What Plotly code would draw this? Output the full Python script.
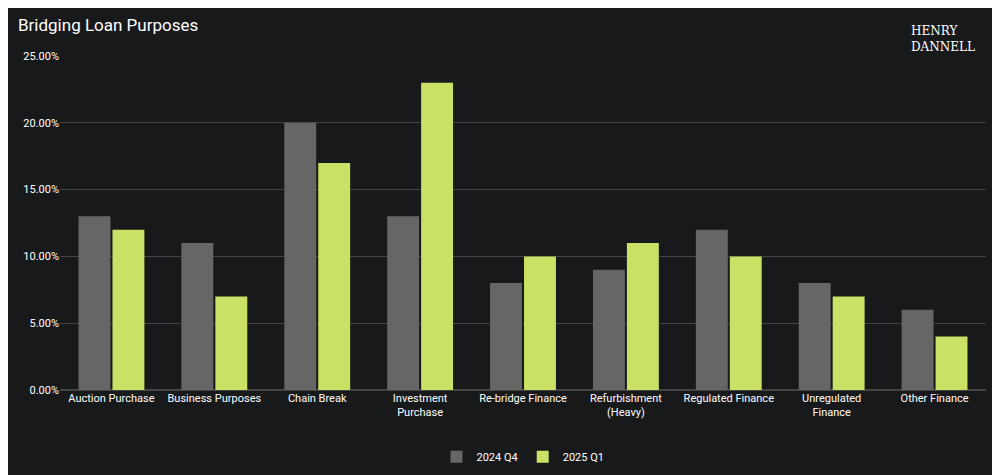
import plotly.graph_objects as go

categories = ["Auction Purchase", "Business Purposes", "Chain Break", "Investment<br>Purchase",
              "Re-bridge Finance", "Refurbishment<br>(Heavy)", "Regulated Finance",
              "Unregulated<br>Finance", "Other Finance"]
q4_2024 = [13, 11, 20, 13, 8, 9, 12, 8, 6]
q1_2025 = [12, 7, 17, 23, 10, 11, 10, 7, 4]
tick_vals = [0, 5, 10, 15, 20, 25]
tick_text = ["0.00%", "5.00%", "10.00%", "15.00%", "20.00%", "25.00%"]

fig = go.Figure()
fig.add_bar(x=categories, y=q4_2024, name="2024 Q4", marker=dict(color="#666666", line=dict(width=0)))
fig.add_bar(x=categories, y=q1_2025, name="2025 Q1", marker=dict(color="#c9e265", line=dict(width=0)))

bg = "#18191b"
fig.update_layout(
    width=1000, height=475, paper_bgcolor=bg, plot_bgcolor=bg,
    margin=dict(l=52, r=22, t=48, b=64),
    bargap=0.34, bargroupgap=0.06,
    font=dict(family="Roboto", color="#ffffff", size=11),
    title=dict(text="Bridging Loan Purposes", x=0.01, y=0.965, xanchor="left", yanchor="middle",
               font=dict(size=17, color="#ffffff")),
    legend=dict(orientation="h", x=0.5, xanchor="center", y=-0.2, yanchor="middle",
                font=dict(size=11, color="#ffffff")),
    xaxis=dict(showgrid=False, tickfont=dict(size=11), showline=False, ticks=""),
    yaxis=dict(range=[0, 25], tickvals=tick_vals, ticktext=tick_text, gridcolor="#444444",
               gridwidth=1, zeroline=True, zerolinecolor="#444444", tickfont=dict(size=11), ticks=""),
)
fig.add_annotation(text="HENRY<br>DANNELL", xref="paper", yref="paper", x=0.99, y=1.0,
                   xanchor="right", yanchor="bottom", showarrow=False, align="left",
                   font=dict(family="DejaVu Serif", size=12, color="#ffffff"))
fig.write_html("out.html")
